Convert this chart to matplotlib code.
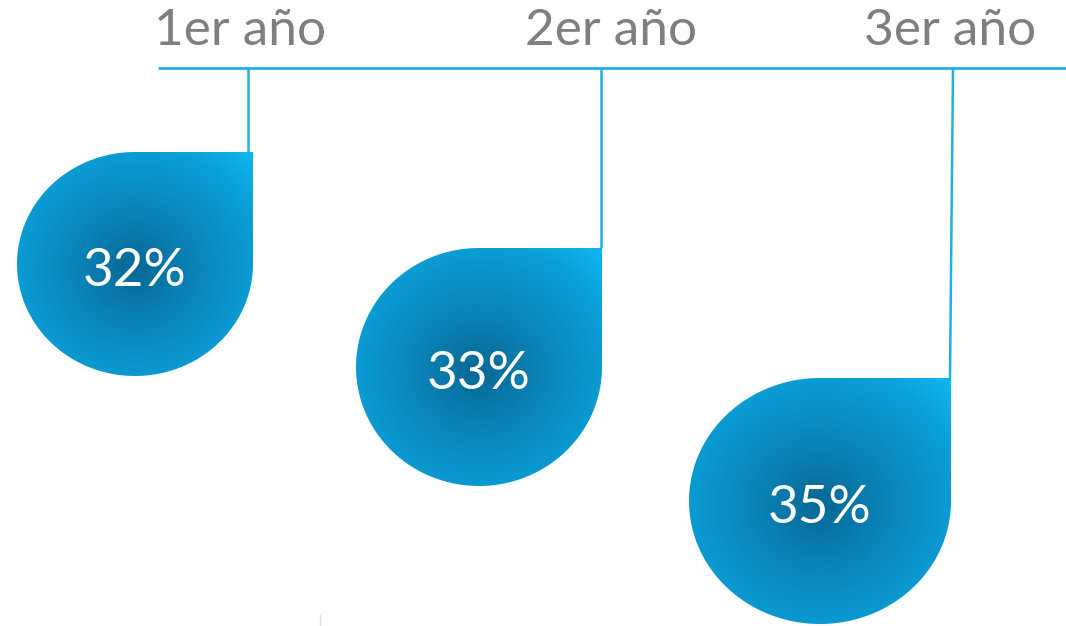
import numpy as np
import matplotlib
matplotlib.use("Agg")
import matplotlib.pyplot as plt
from matplotlib.path import Path
from matplotlib.patches import PathPatch
from matplotlib.colors import LinearSegmentedColormap

# ---- data ----
years = ["1er año", "2er año", "3er año"]
values = [32, 33, 35]
value_labels = [f"{v}%" for v in values]

# ---- layout (pixel coordinates) ----
W, H = 1066, 626
drop_cx = [135, 479, 820]
drop_cy = [264, 367, 501]
drop_rx = [118, 123, 131]
drop_ry = [112, 119, 123]
conn_top_x = [248, 601, 953]
conn_bot_x = [248, 601, 950]
label_x = [240, 611, 950]
label_base_y = 45
line_y = 68
line_x0 = 158

fig = plt.figure(figsize=(W / 100, H / 100), dpi=100)
ax = fig.add_axes([0, 0, 1, 1])
ax.set_xlim(0, W)
ax.set_ylim(H, 0)
ax.axis("off")

line_color = "#1fb0e6"
ax.plot([line_x0, W], [line_y, line_y], color=line_color, lw=2, solid_capstyle="butt")

cmap = LinearSegmentedColormap.from_list(
    "drop",
    [(0.0, "#066894"), (0.3, "#0a80b3"), (0.62, "#0a96cd"), (0.75, "#0a9fd8"), (1.0, "#10b8f2")],
)

def drop_path(cx, cy, rx, ry):
    th = np.linspace(-np.pi / 2, -2 * np.pi, 200)  # screen: top -> left -> bottom -> right
    xs = cx + rx * np.cos(th)
    ys = cy + ry * np.sin(th)
    verts = list(zip(xs, ys))
    verts += [(cx + rx, cy - ry), (cx, cy - ry), (cx, cy - ry)]
    codes = [Path.MOVETO] + [Path.LINETO] * (len(verts) - 2) + [Path.CLOSEPOLY]
    return Path(verts, codes)

font = dict(family=["Lato", "Liberation Sans", "DejaVu Sans"], weight="normal")

for i in range(len(values)):
    cx, cy, rx, ry = drop_cx[i], drop_cy[i], drop_rx[i], drop_ry[i]
    ax.plot([conn_top_x[i], conn_bot_x[i]], [line_y, cy - ry], color=line_color,
            lw=1.8, solid_capstyle="butt")
    path = drop_path(cx, cy, rx, ry)
    patch = PathPatch(path, facecolor="none", edgecolor="none")
    ax.add_patch(patch)
    x0, x1 = cx - rx - 2, cx + rx + 2
    y0, y1 = cy - ry - 2, cy + ry + 2
    gx, gy = np.meshgrid(np.linspace(x0, x1, 300), np.linspace(y0, y1, 300))
    gcx, gcy = cx, cy + 4
    d = np.sqrt(((gx - gcx) / rx) ** 2 + ((gy - gcy) / ry) ** 2)
    t = np.clip(d / 1.45, 0, 1)
    im = ax.imshow(t, extent=(x0, x1, y1, y0), cmap=cmap, vmin=0, vmax=1,
                   interpolation="bilinear", zorder=2)
    im.set_clip_path(patch)
    ax.text(cx, cy + 22, value_labels[i], color="white", fontsize=38,
            ha="center", va="baseline", zorder=3, **font)
    ax.text(label_x[i], label_base_y, years[i], color="#7f7f7f", fontsize=37,
            ha="center", va="baseline", zorder=3, **font)

ax.plot([320, 320], [615, 626], color="#dddddd", lw=1)

fig.savefig("out.png", dpi=100)
